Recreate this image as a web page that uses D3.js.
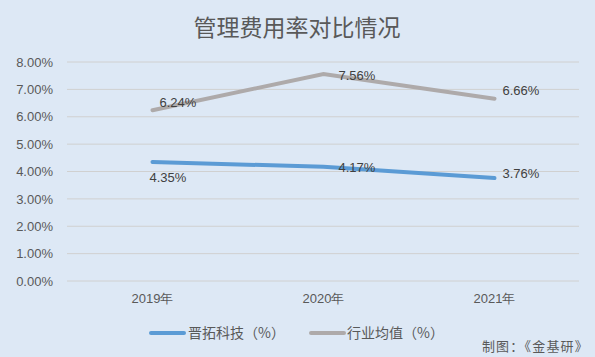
<!DOCTYPE html>
<html><head><meta charset="utf-8">
<script src="https://cdn.jsdelivr.net/npm/d3@7"></script>
<style>body{margin:0;background:#dde8f5;}svg{display:block;font-family:"Noto Sans CJK SC","Noto Sans",sans-serif;}</style>
</head><body>
<script>
const categories = ["2019年","2020年","2021年"];
const seriesNames = ["晋拓科技（%）","行业均值（%）"];
const jintuo = [4.35, 4.17, 3.76];
const industry = [6.24, 7.56, 6.66];
const yTicks = [0,1,2,3,4,5,6,7,8];
const colors = ["#5b9bd5","#aeaaaa"];

const W=595,H=357;
const svg=d3.select("body").append("svg").attr("width",W).attr("height",H);
svg.append("rect").attr("width",W).attr("height",H).attr("fill","#dde8f5");
svg.append("text").attr("x",297).attr("y",36).attr("text-anchor","middle").attr("font-size",23).attr("fill","#595959").text("管理费用率对比情况");

const x=d3.scaleBand().domain(categories).range([67,580]);
const y=d3.scaleLinear().domain([0,8]).range([281,62]);

svg.append("g").selectAll("line").data(yTicks).join("line")
 .attr("x1",67).attr("x2",579).attr("y1",d=>y(d)).attr("y2",d=>y(d))
 .attr("stroke","#d0d0d0").attr("stroke-width",1);

const yAxis=svg.append("g").attr("transform","translate(60,0)")
 .call(d3.axisLeft(y).tickValues(yTicks).tickFormat(d=>d.toFixed(2)+"%").tickSize(0).tickPadding(7));
yAxis.select(".domain").remove();
yAxis.selectAll("text").attr("font-size",13).attr("fill","#595959").attr("font-family","Liberation Sans, Arial, sans-serif");

const xAxis=svg.append("g").attr("transform","translate(0,281)")
 .call(d3.axisBottom(x).tickSize(0).tickPadding(13));
xAxis.select(".domain").remove();
xAxis.selectAll("text").attr("font-size",13).attr("fill","#595959");

const line=d3.line().x((d,i)=>x(categories[i])+x.bandwidth()/2).y(d=>y(d));
[jintuo,industry].forEach((s,k)=>{
  svg.append("path").datum(s).attr("d",line).attr("fill","none")
   .attr("stroke",colors[k]).attr("stroke-width",4).attr("stroke-linecap","round");
});

const lblOff = {
  0:[[-3,15],[15,0],[8,-5]],
  1:[[7,-8],[15,1],[8,-9]]
};
[jintuo,industry].forEach((s,k)=>{
  svg.append("g").selectAll("text").data(s).join("text")
   .attr("x",(d,i)=>x(categories[i])+x.bandwidth()/2+lblOff[k][i][0])
   .attr("y",(d,i)=>y(d)+lblOff[k][i][1]+5)
   .attr("font-size",13).attr("fill","#404040").attr("font-family","Liberation Sans, Arial, sans-serif")
   .text(d=>d.toFixed(2)+"%");
});

const leg=[[150,188],[310,347]];
seriesNames.forEach((n,k)=>{
  svg.append("line").attr("x1",leg[k][0]+1).attr("x2",leg[k][0]+34).attr("y1",333).attr("y2",333)
   .attr("stroke",colors[k]).attr("stroke-width",4).attr("stroke-linecap","round");
  svg.append("text").attr("x",leg[k][1]).attr("y",338).attr("font-size",14).attr("fill","#595959").text(n);
});
svg.append("text").attr("x",589).attr("y",351).attr("text-anchor","end").attr("font-size",13).attr("letter-spacing",1.2).attr("fill","#595959").text("制图：《金基研》");
</script>
</body></html>
